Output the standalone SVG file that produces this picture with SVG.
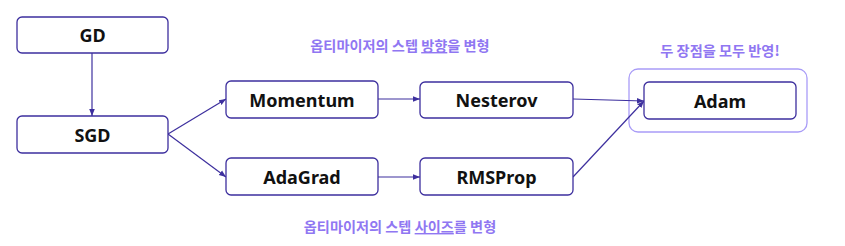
<svg xmlns="http://www.w3.org/2000/svg" width="845" height="246" viewBox="0 0 845 246">
<style>
.node{fill:#fff;stroke:#3d2f9e;stroke-width:1.3}
.lbl{font-family:"Noto Sans","Liberation Sans",sans-serif;font-weight:bold;font-size:18px;fill:#111;text-anchor:middle;dominant-baseline:central}
.note{font-family:"Noto Sans CJK KR","Noto Sans",sans-serif;font-weight:bold;font-size:14.2px;fill:#9077f2;text-anchor:middle}
.edge{stroke:#3d2f9e;stroke-width:1.2;fill:none;marker-end:url(#arr)}
</style>
<defs>
<marker id="arr" viewBox="0 0 10 10" refX="10" refY="5" markerWidth="7" markerHeight="7" orient="auto" markerUnits="userSpaceOnUse">
<path d="M0,1 L10,5 L0,9 z" fill="#3d2f9e"/>
</marker>
</defs>
<rect x="629" y="69" width="178" height="63" rx="9" fill="none" stroke="#a99cf7" stroke-width="1.3"/>
<g id="edges">
<line class="edge" x1="92" y1="53" x2="92" y2="116"/>
<line class="edge" x1="168" y1="134" x2="226" y2="99"/>
<line class="edge" x1="168" y1="134" x2="226" y2="177"/>
<line class="edge" x1="378" y1="99" x2="420" y2="99"/>
<line class="edge" x1="378" y1="177" x2="420" y2="177"/>
<line class="edge" x1="573" y1="99" x2="644" y2="101"/>
<line class="edge" x1="573" y1="177" x2="644" y2="101"/>
</g>
<g id="GD"><rect class="node" x="17" y="17" width="151" height="36" rx="5"/><text class="lbl" x="92.5" y="35">GD</text></g>
<g id="SGD"><rect class="node" x="17" y="116" width="151" height="37" rx="5"/><text class="lbl" x="92.5" y="134.5">SGD</text></g>
<g id="Momentum"><rect class="node" x="226" y="81" width="152" height="37" rx="5"/><text class="lbl" x="302" y="99.5">Momentum</text></g>
<g id="AdaGrad"><rect class="node" x="226" y="158" width="152" height="37" rx="5"/><text class="lbl" x="302" y="176.5">AdaGrad</text></g>
<g id="Nesterov"><rect class="node" x="420" y="82" width="153" height="36" rx="5"/><text class="lbl" x="496.5" y="100">Nesterov</text></g>
<g id="RMSProp"><rect class="node" x="420" y="158" width="153" height="37" rx="5"/><text class="lbl" x="496.5" y="176.5">RMSProp</text></g>
<g id="Adam"><rect class="node" x="644" y="82" width="152" height="37" rx="5"/><text class="lbl" x="720" y="100.5">Adam</text></g>
<g id="notes">
<text class="note" x="400" y="51">옵티마이저의 스텝 <tspan text-decoration="underline">방향</tspan>을 변형</text>
<text class="note" x="720" y="56">두 장점을 모두 반영!</text>
<text class="note" x="400" y="232">옵티마이저의 스텝 <tspan text-decoration="underline">사이즈</tspan>를 변형</text>
</g>
</svg>
